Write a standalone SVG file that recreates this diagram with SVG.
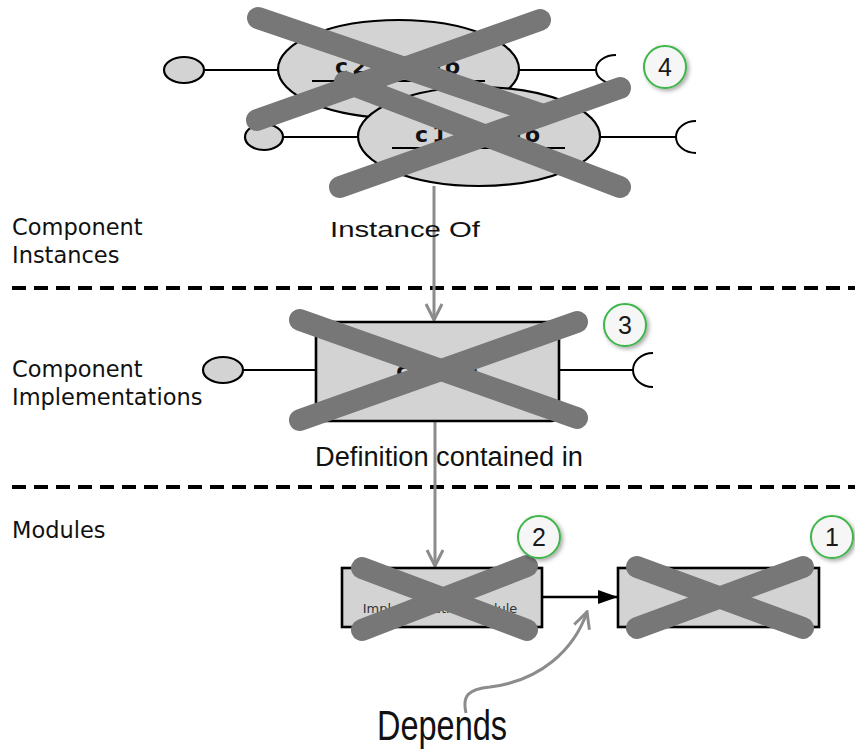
<svg xmlns="http://www.w3.org/2000/svg" width="855" height="749" viewBox="0 0 855 749">
<defs>
<style>
.bg{fill:#ffffff}
.shape{fill:#d3d3d3;stroke:#000;stroke-width:2.2}
.box{fill:#d3d3d3;stroke:#000;stroke-width:2.6}
.wire{fill:none;stroke:#000;stroke-width:1.8}
.sock{fill:none;stroke:#000;stroke-width:2}
.cross{fill:none;stroke:#777777;stroke-width:22;stroke-linecap:round}
.sep{fill:none;stroke:#000;stroke-width:4;stroke-dasharray:14 8}
.lane{font-family:"DejaVu Sans",sans-serif;font-size:22.5px;fill:#111}
.inst{font-family:"DejaVu Sans",sans-serif;font-size:22px;font-weight:bold;fill:#111}
.mod{font-family:"DejaVu Sans",sans-serif;font-size:13px;fill:#333;text-anchor:middle}
.hand{font-family:"Liberation Sans",sans-serif;fill:#111}
.gray{fill:none;stroke:#8c8c8c;stroke-width:3}
.blk{fill:none;stroke:#000;stroke-width:2.4}
.badge{fill:#f6f6f6;stroke:#3fb54a;stroke-width:2}
.num{font-family:"Liberation Sans",sans-serif;font-size:25px;fill:#1a1a1a;text-anchor:middle}
</style>
<marker id="openGray" viewBox="0 0 20 20" refX="18" refY="10" markerWidth="20" markerHeight="20" markerUnits="userSpaceOnUse" orient="auto">
<path d="M2,2 L18,10 L2,18" fill="none" stroke="#8c8c8c" stroke-width="3" stroke-linejoin="miter"/>
</marker>
<marker id="solidBlack" viewBox="0 0 20 14" refX="20" refY="7" markerWidth="20" markerHeight="14" markerUnits="userSpaceOnUse" orient="auto">
<path d="M0,0 L20,7 L0,14 Z" fill="#000"/>
</marker>
<filter id="shadow" x="-30%" y="-30%" width="170%" height="170%">
<feDropShadow dx="2" dy="2" stdDeviation="2" flood-color="#000" flood-opacity="0.35"/>
</filter>
</defs>
<rect class="bg" x="0" y="0" width="855" height="749"/>

<g id="separators">
<line class="sep" x1="12" y1="288" x2="855" y2="288"/>
<line class="sep" x1="12" y1="487" x2="855" y2="487"/>
</g>

<g id="lane-labels">
<text class="lane" x="12" y="235">Component</text>
<text class="lane" x="12" y="263">Instances</text>
<text class="lane" x="12" y="377">Component</text>
<text class="lane" x="12" y="405">Implementations</text>
<text class="lane" x="12" y="538">Modules</text>
</g>

<g id="connectors">
<line class="gray" x1="434" y1="186" x2="434" y2="320" marker-end="url(#openGray)"/>
<line class="gray" x1="435" y1="421" x2="435" y2="566" marker-end="url(#openGray)"/>
<line class="blk" x1="542" y1="597" x2="618" y2="597" marker-end="url(#solidBlack)"/>
<path class="gray" d="M466,713 C462,696 468,689 490,687 C540,681 574,650 587,612" marker-end="url(#openGray)"/>
<text class="hand" x="330" y="237" font-size="22" textLength="150" lengthAdjust="spacingAndGlyphs">Instance Of</text>
<text class="hand" x="315" y="466" font-size="27" textLength="268" lengthAdjust="spacingAndGlyphs">Definition contained in</text>
<text class="hand" x="377" y="740" font-size="42" textLength="130" lengthAdjust="spacingAndGlyphs">Depends</text>
</g>

<g id="node-c2">
<ellipse class="shape" cx="184" cy="70" rx="20" ry="13"/>
<line class="wire" x1="204" y1="70" x2="278" y2="70"/>
<line class="wire" x1="519" y1="70" x2="596" y2="70"/>
<path class="sock" d="M616,55 A20,14.5 0 0 0 616,84"/>
<ellipse class="shape" cx="398.5" cy="69" rx="120.5" ry="49"/>
<text class="inst" x="335" y="74" textLength="125" lengthAdjust="spacing">c2 : Foo</text>
<line class="wire" x1="312" y1="81" x2="485" y2="81" stroke-width="2.2"/>
</g>

<g id="node-c1">
<ellipse class="shape" cx="264" cy="137" rx="19" ry="13"/>
<line class="wire" x1="283" y1="137" x2="358" y2="137"/>
<line class="wire" x1="600" y1="137" x2="676" y2="137"/>
<path class="sock" d="M696,121 A20,16 0 0 0 696,153"/>
<ellipse class="shape" cx="479" cy="136.5" rx="121" ry="49.5"/>
<text class="inst" x="415" y="142" textLength="125" lengthAdjust="spacing">c1 : Foo</text>
<line class="wire" x1="392" y1="148" x2="565" y2="148" stroke-width="2.2"/>
</g>

<g id="node-impl">
<ellipse class="shape" cx="223" cy="370" rx="20" ry="13"/>
<line class="wire" x1="243" y1="370" x2="316" y2="370"/>
<line class="wire" x1="559" y1="370" x2="633" y2="370"/>
<path class="sock" d="M653,353 A20,17 0 0 0 653,387"/>
<rect class="box" x="316" y="322" width="243" height="99" rx="8"/>
<text class="inst" x="437" y="378" text-anchor="middle">c : Foo</text>
</g>

<g id="node-module2">
<rect class="box" x="342" y="568" width="200" height="59"/>
<text class="mod" x="442" y="595">Component</text>
<text class="mod" x="440" y="613">Implementation Module</text>
</g>

<g id="node-module1">
<rect class="box" x="618" y="568" width="201" height="59"/>
</g>

<g id="crosses">
<line class="cross" x1="258" y1="18" x2="543" y2="115"/>
<line class="cross" x1="540" y1="20" x2="257" y2="120"/>
<line class="cross" x1="345" y1="82" x2="620" y2="187"/>
<line class="cross" x1="620" y1="88" x2="340" y2="187"/>
<line class="cross" x1="300" y1="320" x2="577" y2="418"/>
<line class="cross" x1="577" y1="322" x2="300" y2="420"/>
<line class="cross" x1="362" y1="568" x2="527" y2="630"/>
<line class="cross" x1="527" y1="566" x2="362" y2="630"/>
<line class="cross" x1="637" y1="567" x2="803" y2="628"/>
<line class="cross" x1="803" y1="567" x2="637" y2="628"/>
</g>

<g id="badges">
<g id="badge-4"><circle class="badge" cx="665" cy="67" r="21" filter="url(#shadow)"/><text class="num" x="665" y="76">4</text></g>
<g id="badge-3"><circle class="badge" cx="625" cy="325" r="21" filter="url(#shadow)"/><text class="num" x="625" y="334">3</text></g>
<g id="badge-2"><circle class="badge" cx="539" cy="537" r="21" filter="url(#shadow)"/><text class="num" x="539" y="546">2</text></g>
<g id="badge-1"><circle class="badge" cx="832" cy="537" r="21" filter="url(#shadow)"/><text class="num" x="832" y="546">1</text></g>
</g>
</svg>
